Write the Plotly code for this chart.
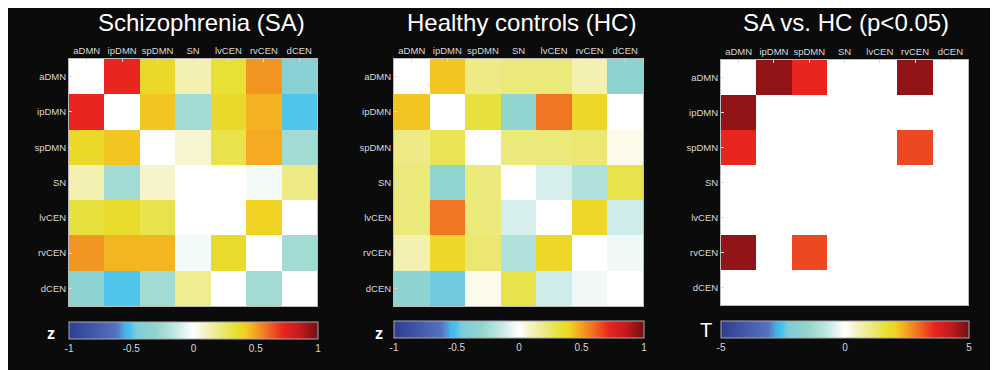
import plotly.graph_objects as go

nets = ["aDMN", "ipDMN", "spDMN", "SN", "lvCEN", "rvCEN", "dCEN"]

sa_z = [
    [0.00, 0.72, 0.37, 0.12, 0.33, 0.52, -0.38],
    [0.72, 0.00, 0.43, -0.25, 0.37, 0.47, -0.50],
    [0.37, 0.43, 0.00, 0.07, 0.30, 0.48, -0.25],
    [0.12, -0.25, 0.08, 0.00, 0.00, -0.03, 0.20],
    [0.32, 0.36, 0.30, 0.00, 0.00, 0.40, 0.00],
    [0.52, 0.46, 0.46, -0.03, 0.36, 0.00, -0.25],
    [-0.35, -0.50, -0.25, 0.18, 0.00, -0.25, 0.00],
]

hc_z = [
    [0.00, 0.43, 0.20, 0.22, 0.22, 0.12, -0.33],
    [0.43, 0.00, 0.32, -0.32, 0.58, 0.38, 0.00],
    [0.20, 0.28, 0.00, 0.22, 0.22, 0.24, 0.03],
    [0.22, -0.32, 0.22, 0.00, -0.10, -0.20, 0.30],
    [0.22, 0.58, 0.22, -0.10, 0.00, 0.38, -0.12],
    [0.12, 0.38, 0.24, -0.20, 0.38, 0.00, -0.04],
    [-0.33, -0.47, 0.03, 0.30, -0.12, -0.04, 0.00],
]

t_z = [
    [0.0, 4.7, 3.6, 0.0, 0.0, 4.7, 0.0],
    [4.7, 0.0, 0.0, 0.0, 0.0, 0.0, 0.0],
    [3.6, 0.0, 0.0, 0.0, 0.0, 3.3, 0.0],
    [0.0, 0.0, 0.0, 0.0, 0.0, 0.0, 0.0],
    [0.0, 0.0, 0.0, 0.0, 0.0, 0.0, 0.0],
    [4.7, 0.0, 3.3, 0.0, 0.0, 0.0, 0.0],
    [0.0, 0.0, 0.0, 0.0, 0.0, 0.0, 0.0],
]

titles = ["Schizophrenia (SA)", "Healthy controls (HC)", "SA vs. HC (p<0.05)"]
z_ticks = [-1, -0.5, 0, 0.5, 1]
z_ticktext = ["-1", "-0.5", "0", "0.5", "1"]
t_ticks = [-5, 0, 5]
t_ticktext = ["-5", "0", "5"]

cscale = [
    [0.00, "#2e3d92"],
    [0.19, "#5572c2"],
    [0.225, "#48b0e8"],
    [0.245, "#45c2ef"],
    [0.27, "#7cccdc"],
    [0.35, "#92d5cc"],
    [0.42, "#bde6e2"],
    [0.50, "#ffffff"],
    [0.54, "#f6f3c8"],
    [0.62, "#ebe770"],
    [0.67, "#e6e030"],
    [0.705, "#f2d020"],
    [0.745, "#f4a621"],
    [0.80, "#f06a22"],
    [0.86, "#e8251f"],
    [0.93, "#c01a1c"],
    [1.00, "#6e1014"],
]

# page body has an 8px margin; figure origin sits at (8, 8) of the window
OX, OY = 8, 8
W, H = 990, 362
FONT = "Liberation Sans, Arial, sans-serif"
LBL = "#d8d8d8"
BG = "#0b0b0b"

def px(x):
    return (x - OX) / W

def py(y):
    return 1 - (y - OY) / H

fig = go.Figure()
fig.add_trace(go.Heatmap(z=sa_z, x=nets, y=nets, coloraxis="coloraxis",
                         xaxis="x", yaxis="y", hoverinfo="skip"))
fig.add_trace(go.Heatmap(z=hc_z, x=nets, y=nets, coloraxis="coloraxis2",
                         xaxis="x2", yaxis="y2", hoverinfo="skip"))
fig.add_trace(go.Heatmap(z=t_z, x=nets, y=nets, coloraxis="coloraxis3",
                         xaxis="x3", yaxis="y3", hoverinfo="skip"))

panels = [
    dict(x0=69, x1=317, y0=59, y1=306),
    dict(x0=394, x1=643, y0=59, y1=306),
    dict(x0=721, x1=968, y0=60, y1=305),
]

layout = dict(
    width=W, height=H,
    margin=dict(l=0, r=0, t=0, b=0, autoexpand=False),
    paper_bgcolor=BG,
    plot_bgcolor=BG,
    font=dict(family=FONT, color=LBL, size=10),
    showlegend=False,
)

for i, p in enumerate(panels):
    sfx = "" if i == 0 else str(i + 1)
    layout["xaxis" + sfx] = dict(
        domain=[px(p["x0"]), px(p["x1"])], anchor="y" + sfx, side="top",
        tickfont=dict(size=9.5, color=LBL, family=FONT),
        ticks="inside", ticklen=3, tickcolor="#dddddd",
        showline=True, mirror=True, linecolor="#bbbbbb", linewidth=1,
        showgrid=False, zeroline=False, fixedrange=True, automargin=False,
    )
    layout["yaxis" + sfx] = dict(
        domain=[py(p["y1"]), py(p["y0"])], anchor="x" + sfx,
        autorange="reversed",
        tickfont=dict(size=9.5, color=LBL, family=FONT),
        ticks="inside", ticklen=3, tickcolor="#dddddd",
        showline=True, mirror=True, linecolor="#bbbbbb", linewidth=1,
        showgrid=False, zeroline=False, fixedrange=True, automargin=False,
    )

cbs = [
    dict(x0=69, x1=318, y=322, rng=(-1, 1), tv=z_ticks, tt=z_ticktext),
    dict(x0=394, x1=644, y=321, rng=(-1, 1), tv=z_ticks, tt=z_ticktext),
    dict(x0=721, x1=969, y=321, rng=(-5, 5), tv=t_ticks, tt=t_ticktext),
]
for i, c in enumerate(cbs):
    key = "coloraxis" if i == 0 else "coloraxis" + str(i + 1)
    layout[key] = dict(
        colorscale=cscale, cmin=c["rng"][0], cmax=c["rng"][1],
        colorbar=dict(
            orientation="h",
            x=px((c["x0"] + c["x1"]) / 2), xanchor="center",
            y=py(c["y"]), yanchor="top",
            len=(c["x1"] - c["x0"]) / W, lenmode="fraction",
            thickness=17, xpad=0, ypad=0,
            outlinewidth=1, outlinecolor="#aaaaaa",
            tickvals=c["tv"], ticktext=c["tt"],
            tickfont=dict(size=10, color=LBL, family=FONT),
            ticks="", ticklabelposition="outside",
        ),
    )

title_x = [201, 521, 846]
annos = []
for t, tx in zip(titles, title_x):
    annos.append(dict(text=t, x=px(tx), y=py(22), xref="paper", yref="paper",
                      xanchor="center", yanchor="middle", showarrow=False,
                      font=dict(size=24, color="#ffffff", family=FONT)))
annos.append(dict(text="<b>z</b>", x=px(51), y=py(333), xref="paper", yref="paper",
                  xanchor="center", yanchor="middle", showarrow=False,
                  font=dict(size=16, color="#ffffff", family=FONT)))
annos.append(dict(text="<b>z</b>", x=px(379), y=py(333), xref="paper", yref="paper",
                  xanchor="center", yanchor="middle", showarrow=False,
                  font=dict(size=16, color="#ffffff", family=FONT)))
annos.append(dict(text="T", x=px(705.5), y=py(330), xref="paper", yref="paper",
                  xanchor="center", yanchor="middle", showarrow=False,
                  font=dict(size=20, color="#ffffff", family=FONT)))
layout["annotations"] = annos

fig.update_layout(**layout)
fig.write_html("out.html")
